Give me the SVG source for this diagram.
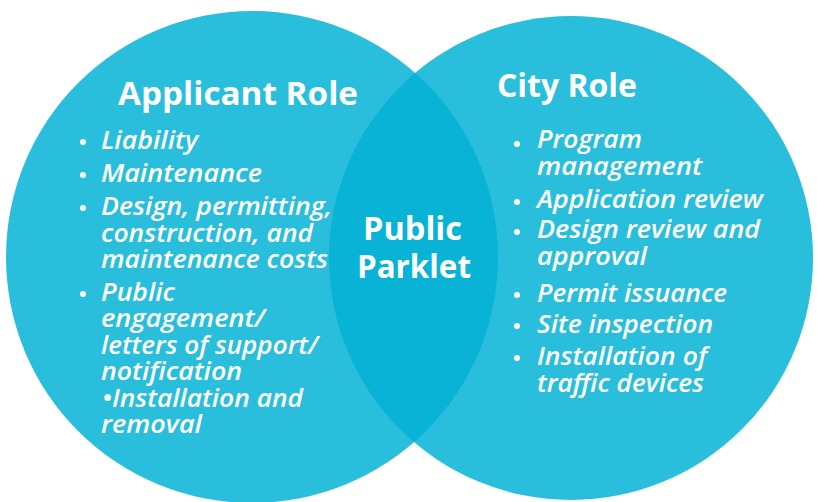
<svg xmlns="http://www.w3.org/2000/svg" width="817" height="502" viewBox="0 0 817 502">
<style>
.circ{fill:#29BEDC}
.lens{fill:#08B3D6}
.h{font-family:"Open Sans","Liberation Sans",sans-serif;font-weight:700;font-size:32px;fill:#fff}
.t{font-family:"Open Sans","Liberation Sans",sans-serif;font-weight:600;font-style:italic;font-size:26px;fill:#fff}
.b{fill:#fff}
</style>
<defs>
<clipPath id="clipL"><circle cx="252" cy="257" r="246"/></clipPath>
</defs>
<rect width="817" height="502" fill="#fff"/>
<g id="applicant-circle">
<circle class="circ" cx="252" cy="257" r="246"/>
</g>
<g id="city-circle">
<circle class="circ" cx="571" cy="258" r="242"/>
</g>
<g id="overlap">
<circle class="lens" cx="571" cy="258" r="242" clip-path="url(#clipL)"/>
</g>
<g id="applicant-role">
<text class="h" x="118" y="105" textLength="240" lengthAdjust="spacingAndGlyphs">Applicant Role</text>
<circle class="b" cx="83" cy="142" r="3"/>
<circle class="b" cx="83" cy="175" r="3"/>
<circle class="b" cx="83" cy="208" r="3"/>
<circle class="b" cx="83" cy="294" r="3"/>
<text class="t" x="101" y="149" textLength="97" lengthAdjust="spacingAndGlyphs">Liability</text>
<text class="t" x="101" y="182" textLength="161" lengthAdjust="spacingAndGlyphs">Maintenance</text>
<text class="t" x="101" y="215" textLength="231" lengthAdjust="spacingAndGlyphs">Design, permitting,</text>
<text class="t" x="101" y="242" textLength="212" lengthAdjust="spacingAndGlyphs">construction, and</text>
<text class="t" x="101" y="268" textLength="227" lengthAdjust="spacingAndGlyphs">maintenance costs</text>
<text class="t" x="101" y="301" textLength="74" lengthAdjust="spacingAndGlyphs">Public</text>
<text class="t" x="101" y="327" textLength="164" lengthAdjust="spacingAndGlyphs">engagement/</text>
<text class="t" x="101" y="354" textLength="217" lengthAdjust="spacingAndGlyphs">letters of support/</text>
<text class="t" x="101" y="380" textLength="141" lengthAdjust="spacingAndGlyphs">notification</text>
<text class="t" x="102" y="407" textLength="201" lengthAdjust="spacingAndGlyphs">•Installation and</text>
<text class="t" x="101" y="433" textLength="101" lengthAdjust="spacingAndGlyphs">removal</text>
</g>
<g id="public-parklet">
<text class="h" x="363" y="240" textLength="99" lengthAdjust="spacingAndGlyphs">Public</text>
<text class="h" x="357" y="278" textLength="114" lengthAdjust="spacingAndGlyphs">Parklet</text>
</g>
<g id="city-role">
<text class="h" x="497" y="97" textLength="140" lengthAdjust="spacingAndGlyphs">City Role</text>
<circle class="b" cx="517" cy="144" r="3"/>
<circle class="b" cx="517" cy="202" r="3"/>
<circle class="b" cx="517" cy="232" r="3"/>
<circle class="b" cx="517" cy="295" r="3"/>
<circle class="b" cx="517" cy="326" r="3"/>
<circle class="b" cx="517" cy="358" r="3"/>
<text class="t" x="537" y="148" textLength="105" lengthAdjust="spacingAndGlyphs">Program</text>
<text class="t" x="537" y="175" textLength="165" lengthAdjust="spacingAndGlyphs">management</text>
<text class="t" x="537" y="208" textLength="226" lengthAdjust="spacingAndGlyphs">Application review</text>
<text class="t" x="537" y="238" textLength="223" lengthAdjust="spacingAndGlyphs">Design review and</text>
<text class="t" x="537" y="265" textLength="110" lengthAdjust="spacingAndGlyphs">approval</text>
<text class="t" x="537" y="302" textLength="190" lengthAdjust="spacingAndGlyphs">Permit issuance</text>
<text class="t" x="537" y="333" textLength="176" lengthAdjust="spacingAndGlyphs">Site inspection</text>
<text class="t" x="537" y="365" textLength="170" lengthAdjust="spacingAndGlyphs">Installation of</text>
<text class="t" x="537" y="392" textLength="167" lengthAdjust="spacingAndGlyphs">traffic devices</text>
</g>
</svg>
